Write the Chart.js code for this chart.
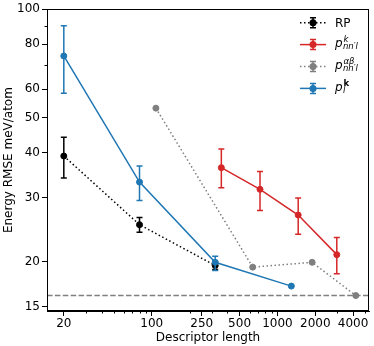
<!DOCTYPE html>
<html><head><meta charset="utf-8">
<script src="https://cdn.jsdelivr.net/npm/chart.js@4.4.1/dist/chart.umd.min.js"></script>
<style>html,body{margin:0;padding:0;background:#fff}#wrap{width:374px;height:346px;position:relative}</style>
</head><body><div id="wrap"><canvas id="c"></canvas></div>
<script>
// ---- data ----
const rpX=[20,80,320], rpY=[39.2,25.3,19.5], rpLo=[34.1,24.1,19.0], rpHi=[44.2,26.5,20.0];
const redX=[358,727,1463,2966], redY=[36.4,31.7,26.9,20.9], redLo=[32.0,27.7,23.8,18.5], redHi=[41.0,35.5,30.0,23.3];
const grayX=[108,636,1888,4200], grayY=[53.2,19.3,19.9,16.1];
const blueX=[20,80,320,1290], blueY=[74.2,33.2,19.9,17.1], blueLo=[58.5,29.5,18.9,null], blueHi=[90,36.8,20.7,null];
const refLine=16.1;
const xTicks=[20,30,40,50,60,70,80,90,100,200,250,300,400,500,600,700,800,900,1000,2000,3000,4000,5000];
const xLabels=[20,100,250,500,1000,2000,4000];
const yTicks=[15,20,30,40,50,60,70,80,90,100];
const yLabels=[15,20,30,40,50,60,80,100];

const FONT='"DejaVu Sans", sans-serif';
Chart.defaults.font.family=FONT;
Chart.defaults.font.size=12;
Chart.defaults.color='#000';

const pts=(xs,ys)=>xs.map((x,i)=>({x:x,y:ys[i]}));
const errs={0:[rpX,rpLo,rpHi],1:[redX,redLo,redHi],3:[blueX,blueLo,blueHi]};

const legendItems=[
  {color:'#000000',dash:[1.5,2.5],base:'RP',sub:'',sup:'',plain:true},
  {color:'#d62728',dash:[],base:'p',sub:'nn\u2032l',sup:'k'},
  {color:'#7f7f7f',dash:[1.5,2.5],base:'p',sub:'nn\u2032l',sup:'\u03b1\u03b2'},
  {color:'#1f77b4',dash:[],base:'p',sub:'l',sup:'k',supBold:true}
];

function errBar(ctx,px,p1,p2){
  ctx.beginPath();
  ctx.moveTo(px,p1);ctx.lineTo(px,p2);
  ctx.moveTo(px-3,p1);ctx.lineTo(px+3,p1);
  ctx.moveTo(px-3,p2);ctx.lineTo(px+3,p2);
  ctx.stroke();
}

const extras={id:'extras',
  beforeDatasetsDraw(chart){
    const ctx=chart.ctx,a=chart.chartArea,py=chart.scales.y.getPixelForValue(refLine);
    ctx.save();ctx.strokeStyle='#7f7f7f';ctx.lineWidth=1.5;ctx.setLineDash([5.5,2.4]);
    ctx.beginPath();ctx.moveTo(a.left,py);ctx.lineTo(a.right,py);ctx.stroke();ctx.restore();
  },
  beforeDatasetDraw(chart,args){
    const e=errs[args.index]; if(!e) return;
    const ds=chart.data.datasets[args.index],xs=chart.scales.x,ys=chart.scales.y,ctx=chart.ctx;
    ctx.save();ctx.strokeStyle=ds.borderColor;ctx.lineWidth=1.5;ctx.setLineDash([]);
    e[0].forEach((xv,i)=>{
      if(e[1][i]==null) return;
      errBar(ctx,xs.getPixelForValue(xv),ys.getPixelForValue(e[1][i]),ys.getPixelForValue(e[2][i]));
    });
    ctx.restore();
  },
  afterDraw(chart){
    const ctx=chart.ctx,a=chart.chartArea,xs=chart.scales.x,ys=chart.scales.y;
    ctx.save();
    ctx.strokeStyle='#000';ctx.lineWidth=1;ctx.setLineDash([]);
    ctx.strokeRect(Math.round(a.left)+0.5,Math.round(a.top)+0.5,Math.round(a.right-a.left)-1,Math.round(a.bottom-a.top)-1);
    // minor ticks
    ctx.beginPath();
    xTicks.forEach(v=>{ if(xLabels.includes(v)) return; const px=Math.round(xs.getPixelForValue(v))+0.5; ctx.moveTo(px,a.bottom);ctx.lineTo(px,a.bottom+2.5);});
    yTicks.forEach(v=>{ if(yLabels.includes(v)) return; const py=Math.round(ys.getPixelForValue(v))+0.5; ctx.moveTo(a.left,py);ctx.lineTo(a.left-2.5,py);});
    ctx.stroke();
    // legend
    const x0=300,x1=326,xm=313,tx=335;
    legendItems.forEach((it,i)=>{
      const yc=22.7+i*21.9;
      ctx.strokeStyle=it.color;ctx.fillStyle=it.color;ctx.lineWidth=1.5;
      ctx.setLineDash(it.dash);
      ctx.beginPath();ctx.moveTo(x0,yc);ctx.lineTo(x1,yc);ctx.stroke();
      ctx.setLineDash([]);
      errBar(ctx,xm,yc-5,yc+5);
      ctx.beginPath();ctx.arc(xm,yc,3.5,0,Math.PI*2);ctx.fill();
      ctx.fillStyle='#000';ctx.textAlign='left';ctx.textBaseline='alphabetic';
      if(it.plain){
        ctx.font='12px '+FONT;ctx.fillText(it.base,tx,yc+4.3);
      }else{
        ctx.font='italic 12px '+FONT;ctx.fillText(it.base,tx,yc+2.3);
        const w=ctx.measureText(it.base).width;
        ctx.font='italic 8.5px '+FONT;ctx.fillText(it.sub,tx+w+0.3,yc+4.3);
        ctx.font=(it.supBold?'bold ':'italic ')+'8.5px '+FONT;ctx.fillText(it.sup,tx+w+0.8,yc-2.5);
      }
    });
    ctx.restore();
  }
};

const ds=(label,xs,ys,color,dash,order)=>({label:label,data:pts(xs,ys),showLine:true,borderColor:color,backgroundColor:color,
  borderDash:dash,borderWidth:1.5,pointRadius:3,pointBorderWidth:1,pointBorderColor:color,pointBackgroundColor:color,order:order});

new Chart(document.getElementById('c'),{
  type:'scatter',
  data:{datasets:[
    ds('RP',rpX,rpY,'#000000',[1.5,2.5],4),
    ds('p_nn\'l^k',redX,redY,'#d62728',[],3),
    ds('p_nn\'l^ab',grayX,grayY,'#7f7f7f',[1.5,2.5],2),
    ds('p_l^k',blueX,blueY,'#1f77b4',[],1)
  ]},
  options:{responsive:true,maintainAspectRatio:false,animation:false,events:[],
    layout:{padding:{top:6,right:2,left:0,bottom:0}},
    plugins:{legend:{display:false},tooltip:{enabled:false}},
    scales:{
      x:{type:'logarithmic',min:14.7,max:5350,
        afterBuildTicks:s=>{s.ticks=xTicks.map(v=>({value:v}));},
        afterFit:s=>{s.height=35;},
        ticks:{callback:v=>xLabels.includes(v)?String(v):'',autoSkip:false,maxRotation:0,minRotation:0,color:'#000',font:{size:12},padding:1},
        grid:{drawOnChartArea:false,tickLength:5,tickColor:c=>(c.tick&&xLabels.includes(c.tick.value))?'#000':'rgba(0,0,0,0)'},
        border:{color:'#000',width:1},
        title:{display:true,text:'Descriptor length',color:'#000',font:{size:12},padding:{top:0,bottom:1}}},
      y:{type:'logarithmic',min:14.59,max:100,
        afterBuildTicks:s=>{s.ticks=yTicks.map(v=>({value:v}));},
        afterFit:s=>{s.width=47;},
        ticks:{callback:v=>yLabels.includes(v)?String(v):'',autoSkip:false,color:'#000',font:{size:12},padding:2},
        grid:{drawOnChartArea:false,tickLength:5,tickColor:c=>(c.tick&&yLabels.includes(c.tick.value))?'#000':'rgba(0,0,0,0)'},
        border:{color:'#000',width:1},
        title:{display:true,text:'Energy RMSE meV/atom',color:'#000',font:{size:12},padding:{top:2,bottom:0}}}
    }
  },
  plugins:[extras]
});
</script></body></html>
